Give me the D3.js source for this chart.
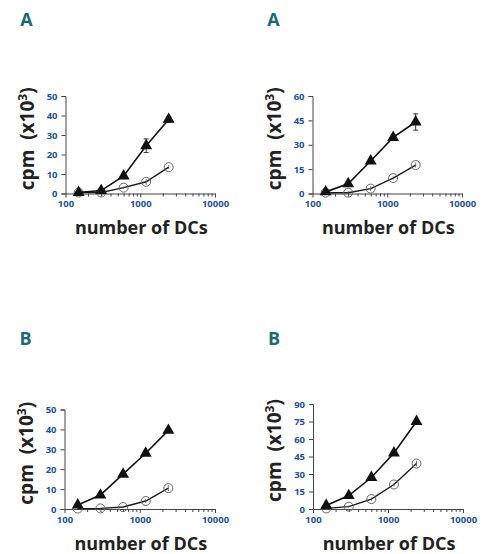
<!DOCTYPE html>
<html>
<head>
<meta charset="utf-8">
<script src="https://cdn.jsdelivr.net/npm/d3@7"></script>
<style>
    body { margin: 0; background: #fff; }
    svg { display: block; }
</style>
</head>
<body>
<div id="chart"></div>
<script>
// number of DCs per well
const dcCounts = [150, 300, 600, 1200, 2400];
const xTickLabels = [100, 1000, 10000];

// panel letters
const panelLetters = ["A", "A", "B", "B"];

// y axis ticks (cpm x10^3)
const yTicksA1 = [0, 10, 20, 30, 40, 50];
const yTicksA2 = [0, 15, 30, 45, 60];
const yTicksB1 = [0, 10, 20, 30, 40, 50];
const yTicksB2 = [0, 15, 30, 45, 60, 75, 90];

// filled triangles
const triA1 = [0.5, 1.5, 9, 24.5, 38];
const triA1Err = [0.4, 0.5, 1, 3.5, 1.5];
const triA2 = [1, 6, 20, 34.5, 44];
const triA2Err = [1, 1, 1, 1.5, 5];
const triB1 = [2, 7, 17.5, 28, 39.5];
const triB1Err = [0.5, 0.5, 1, 1, 1];
const triB2 = [3, 11.5, 27, 48, 75];
const triB2Err = [0.5, 1, 1, 1.5, 1.5];

// open circles
const circA1 = [0.5, 0.5, 3, 6, 13.5];
const circA1Err = [0.3, 0.3, 0.5, 1.5, 1];
const circA2 = [0.5, 0.5, 3, 9.5, 17.5];
const circA2Err = [0.3, 1, 1.5, 1, 1.5];
const circB1 = [0.2, 0.3, 1, 4, 10.5];
const circB1Err = [0.3, 0.3, 0.5, 1, 1.5];
const circB2 = [0.5, 2, 8.5, 21, 39];
const circB2Err = [0.5, 1, 1.5, 1.5, 2.5];

const W = 483, H = 554;
const FONT = "'Open Sans', 'Liberation Sans', sans-serif";
const TICK_BLUE = "#234f98";
const TEAL = "#1a6b72";
const INK = "#222";

const svg = d3.select("#chart").append("svg")
    .attr("width", W)
    .attr("height", H)
    .attr("viewBox", `0 0 ${W} ${H}`);

// layout of each panel (axis origin, extents)
const panels = [
    { x0: 65.5, x1: 215, yb: 193.5, yt: 96, ticks: yTicksA1, tri: triA1, triErr: triA1Err, circ: circA1, circErr: circA1Err, letterY: 26, labelX: 34 },
    { x0: 312.5, x1: 462, yb: 193.5, yt: 96, ticks: yTicksA2, tri: triA2, triErr: triA2Err, circ: circA2, circErr: circA2Err, letterY: 26, labelX: 281 },
    { x0: 64.5, x1: 215, yb: 509, yt: 409.5, ticks: yTicksB1, tri: triB1, triErr: triB1Err, circ: circB1, circErr: circB1Err, letterY: 345, labelX: 33 },
    { x0: 313, x1: 463, yb: 509, yt: 404, ticks: yTicksB2, tri: triB2, triErr: triB2Err, circ: circB2, circErr: circB2Err, letterY: 345, labelX: 281 }
];

panels.forEach((p, i) => drawPanel(p, panelLetters[i]));

function drawPanel(p, letter) {
    const g = svg.append("g");

    const x = d3.scaleLog().domain([100, 10000]).range([p.x0, p.x1]);
    const yMax = p.ticks[p.ticks.length - 1];
    const y = d3.scaleLinear().domain([0, yMax]).range([p.yb, p.yt]);

    // panel letter
    g.append("text")
        .attr("x", p.x0 - 39)
        .attr("y", p.letterY)
        .attr("text-anchor", "middle")
        .attr("font-family", FONT)
        .attr("font-weight", 700)
        .attr("font-size", 18)
        .attr("fill", TEAL)
        .text(letter);

    // x axis: minor + major ticks
    const allTicks = [];
    for (let d = 100; d <= 10000; d *= 10) {
        for (let k = 1; k < 10; k++) {
            if (d * k <= 10000) allTicks.push(d * k);
        }
    }
    const xAxis = d3.axisBottom(x)
        .tickValues(allTicks)
        .tickSizeOuter(0)
        .tickFormat(d => xTickLabels.includes(d) ? d : "");
    const gx = g.append("g")
        .attr("transform", `translate(0,${p.yb})`)
        .call(xAxis);
    gx.select(".domain").attr("stroke", "#444").attr("stroke-width", 1);
    gx.selectAll(".tick line")
        .attr("stroke", "#444")
        .attr("y2", d => xTickLabels.includes(d) ? 4 : 3);
    gx.selectAll(".tick text")
        .attr("y", 7)
        .attr("font-family", FONT)
        .attr("font-weight", 700)
        .attr("font-size", 9.5)
        .attr("fill", TICK_BLUE);

    // y axis
    const yAxis = d3.axisLeft(y)
        .tickValues(p.ticks)
        .tickSizeOuter(0)
        .tickSize(4)
        .tickPadding(4);
    const gy = g.append("g")
        .attr("transform", `translate(${p.x0},0)`)
        .call(yAxis);
    gy.select(".domain").attr("stroke", "#444").attr("stroke-width", 1);
    gy.selectAll(".tick line").attr("stroke", "#444");
    gy.selectAll(".tick text")
        .attr("font-family", FONT)
        .attr("font-weight", 700)
        .attr("font-size", 9.5)
        .attr("fill", TICK_BLUE);

    // axis titles
    g.append("text")
        .attr("x", (p.x0 + p.x1) / 2 + 1)
        .attr("y", p.yb + 40.5)
        .attr("text-anchor", "middle")
        .attr("font-family", FONT)
        .attr("font-weight", 700)
        .attr("font-size", 18)
        .attr("fill", INK)
        .text("number of DCs");

    const yl = g.append("text")
        .attr("transform", `translate(${p.labelX},${(p.yb + p.yt) / 2 - 6}) rotate(-90)`)
        .attr("text-anchor", "middle")
        .attr("font-family", FONT)
        .attr("font-weight", 700)
        .attr("font-size", 19)
        .attr("fill", INK);
    yl.append("tspan").text("cpm\u00a0\u00a0(x10");
    yl.append("tspan").attr("dy", -7).attr("font-size", 12).text("3");
    yl.append("tspan").attr("dy", 7).text(")");

    const line = d3.line()
        .x((d, j) => x(dcCounts[j]))
        .y(d => y(d));

    // open circles series
    g.append("path")
        .datum(p.circ)
        .attr("fill", "none")
        .attr("stroke", "#1a1a1a")
        .attr("stroke-width", 1.4)
        .attr("d", line);
    g.append("g").selectAll("line")
        .data(p.circ)
        .join("line")
        .attr("x1", (d, j) => x(dcCounts[j]))
        .attr("x2", (d, j) => x(dcCounts[j]))
        .attr("y1", (d, j) => y(Math.max(0, d - p.circErr[j])))
        .attr("y2", (d, j) => y(d + p.circErr[j]))
        .attr("stroke", "#555")
        .attr("stroke-width", 0.8);
    g.append("g").selectAll("circle")
        .data(p.circ)
        .join("circle")
        .attr("cx", (d, j) => x(dcCounts[j]))
        .attr("cy", d => y(d))
        .attr("r", 4.5)
        .attr("fill", "none")
        .attr("stroke", "#666")
        .attr("stroke-width", 1);

    // filled triangles series
    g.append("path")
        .datum(p.tri)
        .attr("fill", "none")
        .attr("stroke", "#111")
        .attr("stroke-width", 1.6)
        .attr("d", line);
    const err = g.append("g").attr("stroke", "#222").attr("stroke-width", 0.9);
    p.tri.forEach((d, j) => {
        const cx = x(dcCounts[j]);
        const top = y(d + p.triErr[j]);
        const bot = y(Math.max(0, d - p.triErr[j]));
        err.append("line").attr("x1", cx).attr("x2", cx).attr("y1", top).attr("y2", bot);
        err.append("line").attr("x1", cx - 2.5).attr("x2", cx + 2.5).attr("y1", top).attr("y2", top);
        err.append("line").attr("x1", cx - 2.5).attr("x2", cx + 2.5).attr("y1", bot).attr("y2", bot);
    });
    g.append("g").selectAll("path")
        .data(p.tri)
        .join("path")
        .attr("transform", (d, j) => `translate(${x(dcCounts[j])},${y(d)})`)
        .attr("d", d3.symbol(d3.symbolTriangle, 62))
        .attr("fill", "#111");
}
</script>
</body>
</html>
